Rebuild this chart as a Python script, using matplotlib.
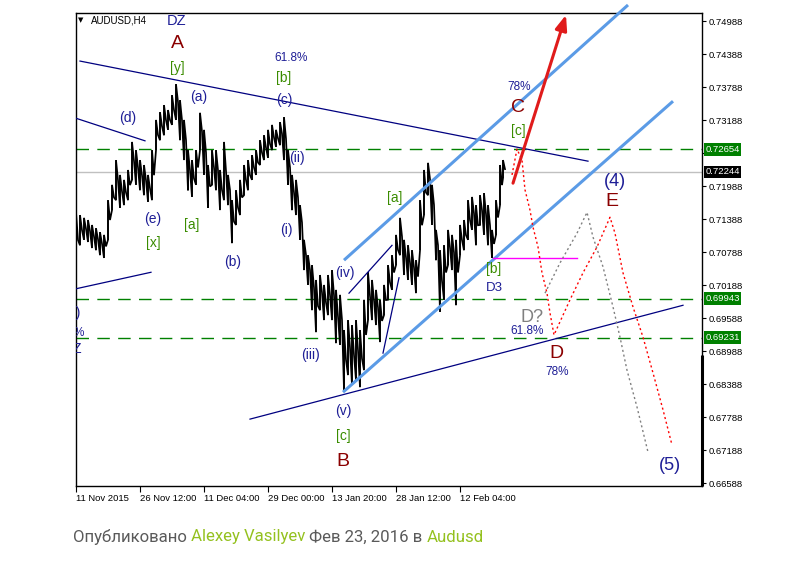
import numpy as np
import matplotlib
matplotlib.use('Agg')
import matplotlib.pyplot as plt
from matplotlib.transforms import blended_transform_factory

# ---------------- data ----------------
# H4 bar index counted from 11 Nov 2015 00:00 (sampled every 4 bars)
bar_idx = list(range(0, 425, 4)) + [427]
bar_high = [0.7151, 0.7146, 0.7141, 0.7137, 0.7128, 0.7122, 0.7115, 0.7110, 0.7173, 0.7201,
            0.7246, 0.7219, 0.7210, 0.7228, 0.7279, 0.7264, 0.7246, 0.7237, 0.7219, 0.7264,
            0.7319, 0.7333, 0.7346, 0.7337, 0.7364, 0.7384, 0.7355, 0.7319, 0.7264, 0.7246,
            0.7264, 0.7332, 0.7301, 0.7237, 0.7264, 0.7264, 0.7228, 0.7279, 0.7219, 0.7173,
            0.7191, 0.7210, 0.7237, 0.7246, 0.7255, 0.7264, 0.7282, 0.7291, 0.7301, 0.7310,
            0.7301, 0.7315, 0.7324, 0.7264, 0.7219, 0.7210, 0.7164, 0.7101, 0.7073, 0.7055,
            0.7028, 0.7037, 0.7019, 0.7037, 0.7046, 0.7010, 0.7001, 0.6937, 0.6955, 0.6946,
            0.6955, 0.6937, 0.6992, 0.7042, 0.7028, 0.7010, 0.6992, 0.7019, 0.7055, 0.7073,
            0.7110, 0.7141, 0.7101, 0.7091, 0.7082, 0.7064, 0.7173, 0.7228, 0.7241, 0.7201,
            0.7119, 0.7082, 0.7091, 0.7119, 0.7110, 0.7101, 0.7128, 0.7137, 0.7173, 0.7179,
            0.7164, 0.7182, 0.7186, 0.7164, 0.7119, 0.7173, 0.7237, 0.7246]
bar_low = [0.7050, 0.7091, 0.7101, 0.7097, 0.7086, 0.7082, 0.7073, 0.7068, 0.7101, 0.7155,
           0.7173, 0.7159, 0.7164, 0.7173, 0.7210, 0.7201, 0.7191, 0.7182, 0.7170, 0.7173,
           0.7264, 0.7282, 0.7291, 0.7301, 0.7310, 0.7319, 0.7282, 0.7246, 0.7191, 0.7179,
           0.7201, 0.7264, 0.7219, 0.7159, 0.7201, 0.7191, 0.7155, 0.7173, 0.7164, 0.7095,
           0.7128, 0.7146, 0.7182, 0.7191, 0.7210, 0.7219, 0.7237, 0.7246, 0.7250, 0.7264,
           0.7270, 0.7273, 0.7246, 0.7201, 0.7155, 0.7146, 0.7101, 0.7046, 0.7019, 0.6973,
           0.6933, 0.6973, 0.6955, 0.6964, 0.6955, 0.6913, 0.6910, 0.6828, 0.6855, 0.6837,
           0.6846, 0.6833, 0.6864, 0.6955, 0.6955, 0.6946, 0.6915, 0.6964, 0.6992, 0.7010,
           0.7055, 0.7073, 0.7037, 0.7028, 0.7019, 0.7004, 0.7082, 0.7146, 0.7182, 0.7128,
           0.7064, 0.6970, 0.6992, 0.7055, 0.7046, 0.6982, 0.7073, 0.7082, 0.7101, 0.7119,
           0.7091, 0.7128, 0.7110, 0.7091, 0.7068, 0.7110, 0.7164, 0.7213]

price_ticks = [0.74988, 0.74388, 0.73788, 0.73188, 0.72588, 0.71988, 0.71388, 0.70788,
               0.70188, 0.69588, 0.68988, 0.68388, 0.67788, 0.67188, 0.66588]
time_ticks = [0, 64, 128, 192, 256, 320, 384]
time_labels = ['11 Nov 2015', '26 Nov 12:00', '11 Dec 04:00', '29 Dec 00:00',
               '13 Jan 20:00', '28 Jan 12:00', '12 Feb 04:00']

level_green = [0.72654, 0.69943, 0.69231]
level_bid = 0.72244
level_magenta = 0.7068

# analyst trend lines: (x0, p0, x1, p1)
navy_lines = [(4, 0.7426, 512, 0.7244),
              (0, 0.7322, 69, 0.7281),
              (0, 0.7012, 75, 0.7042),
              (174, 0.6775, 607, 0.6982),
              (273, 0.7004, 316, 0.7091),
              (307, 0.6895, 323, 0.7032)]
channel_lines = [(268, 0.7064, 552, 0.7528),
                 (267, 0.6824, 597, 0.7353)]
arrow_line = (437, 0.7204, 490, 0.7510)
magenta_x = (417, 501)

red_path_x = [436, 441, 446, 449, 454, 457, 462, 466, 471, 474, 478, 494, 507, 521, 534,
              539, 547, 557, 567, 577, 587, 596]
red_path_p = [0.7219, 0.7266, 0.7246, 0.7192, 0.7155, 0.7124, 0.7088, 0.7041, 0.7004, 0.6968,
              0.6928, 0.6992, 0.7041, 0.7088, 0.7142, 0.7113, 0.7041, 0.6979, 0.6924, 0.6859,
              0.6792, 0.6728]
gray_path_x = [469, 484, 501, 511, 517, 527, 537, 544, 551, 561, 572]
gray_path_p = [0.7004, 0.7059, 0.7113, 0.7151, 0.7106, 0.7052, 0.6979, 0.6924, 0.6864,
               0.6797, 0.6715]

# ---------------- figure ----------------
W, H = 801, 587
fig = plt.figure(figsize=(W / 100, H / 100), dpi=100)
fig.patch.set_facecolor('white')
AX_L, AX_R, AX_T, AX_B = 75.5, 701.5, 13, 486
ax = fig.add_axes([AX_L / W, 1 - AX_B / H, (AX_R - AX_L) / W, (AX_B - AX_T) / H])
ax.set_xlim(-0.5, 625.5)
Y_TOP, Y_BOT = 0.75134, 0.66534
ax.set_ylim(Y_BOT, Y_TOP)


def px2d(px, py):
    x = -0.5 + (px - AX_L) * 626 / (AX_R - AX_L)
    p = Y_TOP - (py - AX_T) * (Y_TOP - Y_BOT) / (AX_B - AX_T)
    return x, p


for s in ax.spines.values():
    s.set_color('black')
    s.set_linewidth(1.0)

# horizontal levels
for lv in level_green:
    ax.axhline(lv, color='#008000', lw=1.0, ls=(0, (9, 6)), zorder=1)
ax.axhline(level_bid, color='#c0c0c0', lw=1.0, zorder=1)

# price series: sampled high/low ranges joined as a jagged trace
xs, ys = [], []
for x, hi, lo in zip(bar_idx, bar_high, bar_low):
    xs += [x, x, x + 2]
    ys += [lo, hi, (hi + lo) / 2]
ax.plot(xs, ys, color='black', lw=1.25, zorder=3, solid_joinstyle='miter')
ax.vlines(bar_idx, bar_low, bar_high, color='black', lw=1.1, zorder=3)

# analyst lines
for x0, p0, x1, p1 in navy_lines:
    ax.plot([x0, x1], [p0, p1], color='#000080', lw=0.9, zorder=4)
for x0, p0, x1, p1 in channel_lines:
    ax.plot([x0, x1], [p0, p1], color='#5b9be6', lw=2.2, zorder=4, clip_on=False,
            solid_capstyle='butt')
ax.plot(magenta_x, [level_magenta, level_magenta], color='#ff00ff', lw=1.0, zorder=4)
ax.plot(red_path_x, red_path_p, color='#ff0000', lw=1.0, ls=(0, (1.5, 2)), zorder=4)
ax.plot(gray_path_x, gray_path_p, color='#808080', lw=1.0, ls=(0, (1.5, 2)), zorder=4)
ax.annotate('', xy=(arrow_line[2], arrow_line[3]), xytext=(arrow_line[0], arrow_line[1]),
            arrowprops=dict(arrowstyle='-|>,head_length=0.9,head_width=0.35', color='#e01b1b',
                            lw=2.2, shrinkA=0, shrinkB=0),
            annotation_clip=False, zorder=5)

# ticks
ax.yaxis.tick_right()
ax.set_yticks(price_ticks)
ax.set_yticklabels(['' if abs(v - 0.72588) < 1e-6 else f'{v:.5f}' for v in price_ticks])
ax.tick_params(axis='y', length=3, width=0.8, pad=2, labelsize=6.8, direction='out')
ax.set_xticks(time_ticks)
ax.set_xticklabels(time_labels)
ax.tick_params(axis='x', length=4, width=0.8, pad=2, labelsize=6.8, direction='out')
for t in ax.get_xticklabels():
    t.set_ha('left')
for t in ax.get_xticklabels() + ax.get_yticklabels():
    t.set_family('Liberation Sans')

# price boxes on the axis
bt = blended_transform_factory(ax.transAxes, ax.transData)
for lv in level_green:
    ax.text(1.006, lv, f'{lv:.5f}', transform=bt, ha='left', va='center', fontsize=6.8,
            color='white', family='Liberation Sans', zorder=10, clip_on=False,
            bbox=dict(boxstyle='square,pad=0.18', fc='#008000', ec='none'))
ax.text(1.006, level_bid, f'{level_bid:.5f}', transform=bt, ha='left', va='center',
        fontsize=6.8, color='white', family='Liberation Sans', zorder=10, clip_on=False,
        bbox=dict(boxstyle='square,pad=0.18', fc='black', ec='none'))
# scroll marker on right edge
ax.plot([1.0, 1.0], [Y_BOT, px2d(0, 355)[1]], transform=bt, color='black', lw=2.2,
        clip_on=False, zorder=10, solid_capstyle='butt')

# header
hx, hy = px2d(81, 20)
ax.text(hx, hy, '▼', fontsize=5, ha='center', va='center', color='black')
hx, hy = px2d(91, 20)
ax.text(hx, hy, 'AUDUSD,H4', fontsize=7, ha='left', va='center', color='black',
        family='Liberation Sans')

NAVY = '#1e1e96'
DRED = '#8b0000'
GRN = '#3a8c00'
labels = [
    ('DZ', 177, 21, NAVY, 10.5), ('A', 177, 44, DRED, 14), ('[y]', 177, 68, GRN, 10),
    ('(a)', 199, 97, NAVY, 10), ('61.8%', 291, 58, NAVY, 8.5), ('[b]', 284, 78, GRN, 10),
    ('(c)', 284, 100, NAVY, 10), ('(d)', 128, 118, NAVY, 10), ('(ii)', 297, 158, NAVY, 10),
    ('(e)', 153, 219, NAVY, 10), ('[x]', 153, 243, GRN, 10), ('[a]', 192, 225, GRN, 10),
    ('(b)', 233, 262, NAVY, 10), ('(i)', 286, 230, NAVY, 10), ('(iv)', 345, 273, NAVY, 10),
    ('(iii)', 311, 355, NAVY, 10), ('(v)', 343, 411, NAVY, 10), ('[c]', 343, 436, GRN, 10),
    ('B', 343, 461, DRED, 14), ('[a]', 395, 198, GRN, 10), ('[b]', 494, 269, GRN, 10),
    ('D3', 494, 288, NAVY, 9.5), ('78%', 519, 87, NAVY, 8.5), ('C', 518, 107, DRED, 14),
    ('[c]', 518, 131, GRN, 10), ('(4)', 615, 181, NAVY, 13), ('E', 612, 201, DRED, 14),
    ('D?', 532, 317, '#808080', 13), ('61.8%', 527, 331, NAVY, 8.5), ('D', 556, 354, DRED, 14),
    ('78%', 557, 372, NAVY, 8.5), ('(5)', 670, 466, NAVY, 13),
    ('(c)', 72, 313, NAVY, 10), ('61.8%', 68, 333, NAVY, 8.5), ('DZ', 73, 349, NAVY, 10.5),
]
for txt, px, py, col, fs in labels:
    x, y = px2d(px, py)
    ax.text(x, y, txt, color=col, fontsize=fs, ha='center', va='center',
            family='Liberation Sans', zorder=6, clip_on=True)

# caption
renderer = fig.canvas.get_renderer()
parts = [('Опубликовано ', '#5a5a5a'), ('Alexey Vasilyev', '#94c11f'),
         (' Фев 23, 2016 в ', '#5a5a5a'), ('Audusd', '#94c11f')]
cx = 73
for s, c in parts:
    t = fig.text(cx / W, 1 - 537 / H, s, color=c, fontsize=12.1, ha='left', va='center',
                 family='Roboto')
    bb = t.get_window_extent(renderer)
    cx += bb.width

fig.savefig('out.png', dpi=100, facecolor='white')
